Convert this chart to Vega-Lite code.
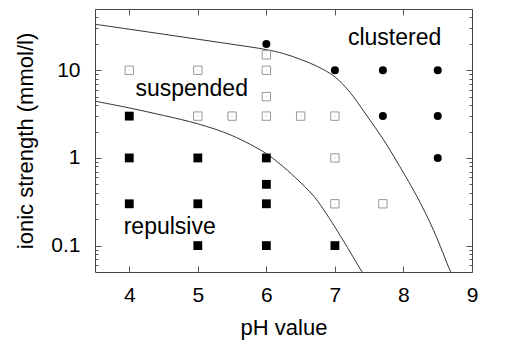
{
  "$schema": "https://vega.github.io/schema/vega-lite/v6.json",
  "width": 377,
  "height": 263,
  "autosize": {"type": "none"},
  "padding": {"left": 95, "top": 9, "right": 39, "bottom": 68},
  "background": "white",
  "config": {
    "view": {"stroke": "#444", "strokeWidth": 1},
    "font": "Liberation Sans",
    "axis": {"grid": false, "domain": false, "tickColor": "#555", "tickWidth": 1, "labelColor": "#000", "titleColor": "#000", "titleFontWeight": "normal", "labelOverlap": false, "labelBound": false, "labelFlush": false}
  },
  "datasets": {
    "curves": [
      {"pH": 3.5, "I": 33.5, "curve": "upper"},
      {"pH": 4.0, "I": 29.4, "curve": "upper"},
      {"pH": 4.5, "I": 25.8, "curve": "upper"},
      {"pH": 5.0, "I": 22.6, "curve": "upper"},
      {"pH": 5.5, "I": 19.8, "curve": "upper"},
      {"pH": 6.0, "I": 17.2, "curve": "upper"},
      {"pH": 6.25, "I": 15.5, "curve": "upper"},
      {"pH": 6.5, "I": 13.3, "curve": "upper"},
      {"pH": 6.75, "I": 11.0, "curve": "upper"},
      {"pH": 7.0, "I": 8.4, "curve": "upper"},
      {"pH": 7.22, "I": 5.6, "curve": "upper"},
      {"pH": 7.47, "I": 3.0, "curve": "upper"},
      {"pH": 7.71, "I": 1.61, "curve": "upper"},
      {"pH": 7.95, "I": 0.79, "curve": "upper"},
      {"pH": 8.2, "I": 0.36, "curve": "upper"},
      {"pH": 8.44, "I": 0.149, "curve": "upper"},
      {"pH": 8.68, "I": 0.052, "curve": "upper"},
      {"pH": 8.72, "I": 0.045, "curve": "upper"},
      {"pH": 3.5, "I": 4.44, "curve": "lower"},
      {"pH": 4.0, "I": 3.72, "curve": "lower"},
      {"pH": 4.5, "I": 3.05, "curve": "lower"},
      {"pH": 5.0, "I": 2.45, "curve": "lower"},
      {"pH": 5.5, "I": 1.8, "curve": "lower"},
      {"pH": 6.0, "I": 1.12, "curve": "lower"},
      {"pH": 6.2, "I": 0.85, "curve": "lower"},
      {"pH": 6.42, "I": 0.6, "curve": "lower"},
      {"pH": 6.7, "I": 0.36, "curve": "lower"},
      {"pH": 6.91, "I": 0.21, "curve": "lower"},
      {"pH": 7.15, "I": 0.105, "curve": "lower"},
      {"pH": 7.42, "I": 0.047, "curve": "lower"},
      {"pH": 7.46, "I": 0.043, "curve": "lower"}
    ],
    "points": [
      {"pH": 4, "I": 3, "cls": "repulsive"},
      {"pH": 4, "I": 1, "cls": "repulsive"},
      {"pH": 4, "I": 0.3, "cls": "repulsive"},
      {"pH": 5, "I": 1, "cls": "repulsive"},
      {"pH": 5, "I": 0.3, "cls": "repulsive"},
      {"pH": 5, "I": 0.1, "cls": "repulsive"},
      {"pH": 6, "I": 1, "cls": "repulsive"},
      {"pH": 6, "I": 0.5, "cls": "repulsive"},
      {"pH": 6, "I": 0.3, "cls": "repulsive"},
      {"pH": 6, "I": 0.1, "cls": "repulsive"},
      {"pH": 7, "I": 0.1, "cls": "repulsive"},
      {"pH": 4, "I": 10, "cls": "suspended"},
      {"pH": 5, "I": 10, "cls": "suspended"},
      {"pH": 6, "I": 15, "cls": "suspended"},
      {"pH": 6, "I": 10, "cls": "suspended"},
      {"pH": 6, "I": 5, "cls": "suspended"},
      {"pH": 5, "I": 3, "cls": "suspended"},
      {"pH": 5.5, "I": 3, "cls": "suspended"},
      {"pH": 6, "I": 3, "cls": "suspended"},
      {"pH": 6.5, "I": 3, "cls": "suspended"},
      {"pH": 7, "I": 3, "cls": "suspended"},
      {"pH": 7, "I": 1, "cls": "suspended"},
      {"pH": 7, "I": 0.3, "cls": "suspended"},
      {"pH": 7.7, "I": 0.3, "cls": "suspended"},
      {"pH": 6, "I": 20, "cls": "clustered"},
      {"pH": 7, "I": 10, "cls": "clustered"},
      {"pH": 7.7, "I": 10, "cls": "clustered"},
      {"pH": 8.5, "I": 10, "cls": "clustered"},
      {"pH": 7.7, "I": 3, "cls": "clustered"},
      {"pH": 8.5, "I": 3, "cls": "clustered"},
      {"pH": 8.5, "I": 1, "cls": "clustered"}
    ],
    "labels": [
      {"pH": 7.87, "I": 23.3, "text": "clustered"},
      {"pH": 4.91, "I": 6.05, "text": "suspended"},
      {"pH": 4.59, "I": 0.165, "text": "repulsive"}
    ]
  },
  "layer": [
    {
      "data": {"name": "curves"},
      "mark": {"type": "line", "clip": true, "color": "#333", "strokeWidth": 1, "interpolate": "catmull-rom"},
      "encoding": {
        "x": {"field": "pH", "type": "quantitative", "scale": {"domain": [3.5, 9], "nice": false, "zero": false},
          "axis": {"orient": "bottom", "values": [4, 5, 6, 7, 8, 9], "tickSize": -6, "labelFontSize": 21, "labelPadding": 18, "title": "pH value", "titleFontSize": 22, "titlePadding": 12}},
        "y": {"field": "I", "type": "quantitative", "scale": {"type": "log", "domain": [0.05, 50], "nice": false},
          "axis": {"orient": "left", "values": [0.1, 1, 10], "tickSize": -6, "labelFontSize": 21, "labelPadding": 21, "labelExpr": "datum.value == 0.1 ? '0.1' : datum.value == 1 ? '1' : '10'", "title": "ionic strength (mmol/l)", "titleFontSize": 22, "titlePadding": 13}},
        "detail": {"field": "curve", "type": "nominal"},
        "order": {"field": "pH", "type": "quantitative"}
      }
    },
    {
      "data": {"name": "points"},
      "transform": [{"filter": "datum.cls == 'repulsive'"}],
      "mark": {"type": "point", "shape": "square", "filled": true, "color": "#000", "size": 78, "opacity": 1},
      "encoding": {
        "x": {"field": "pH", "type": "quantitative", "axis": {"orient": "top", "values": [4, 5, 6, 7, 8], "tickSize": -6, "labels": false, "title": null}},
        "y": {"field": "I", "type": "quantitative", "axis": {"orient": "left", "values": [0.06, 0.07, 0.08, 0.09, 0.2, 0.3, 0.4, 0.5, 0.6, 0.7, 0.8, 0.9, 2, 3, 4, 5, 6, 7, 8, 9, 20, 30, 40, 50], "tickSize": -3, "labels": false, "title": null}}
      }
    },
    {
      "data": {"name": "points"},
      "transform": [{"filter": "datum.cls == 'suspended'"}],
      "mark": {"type": "point", "shape": "square", "filled": false, "color": "#999", "strokeWidth": 1, "size": 70, "opacity": 1},
      "encoding": {
        "x": {"field": "pH", "type": "quantitative", "axis": null},
        "y": {"field": "I", "type": "quantitative", "axis": {"orient": "right", "values": [0.1, 1, 10], "tickSize": -6, "labels": false, "title": null}}
      }
    },
    {
      "data": {"name": "points"},
      "transform": [{"filter": "datum.cls == 'suspended'"}],
      "mark": {"type": "point", "shape": "square", "filled": true, "color": "#bbb", "size": 1, "opacity": 1},
      "encoding": {
        "x": {"field": "pH", "type": "quantitative", "axis": null},
        "y": {"field": "I", "type": "quantitative", "axis": null}
      }
    },
    {
      "data": {"name": "points"},
      "transform": [{"filter": "datum.cls == 'clustered'"}],
      "mark": {"type": "point", "shape": "circle", "filled": true, "color": "#000", "size": 64, "opacity": 1},
      "encoding": {
        "x": {"field": "pH", "type": "quantitative", "axis": null},
        "y": {"field": "I", "type": "quantitative", "axis": {"orient": "right", "values": [0.06, 0.07, 0.08, 0.09, 0.2, 0.3, 0.4, 0.5, 0.6, 0.7, 0.8, 0.9, 2, 3, 4, 5, 6, 7, 8, 9, 20, 30, 40, 50], "tickSize": -3, "labels": false, "title": null}}
      }
    },
    {
      "data": {"name": "labels"},
      "mark": {"type": "text", "fontSize": 23, "align": "center", "baseline": "middle", "color": "#000"},
      "encoding": {
        "x": {"field": "pH", "type": "quantitative", "axis": null},
        "y": {"field": "I", "type": "quantitative", "axis": null},
        "text": {"field": "text", "type": "nominal"}
      }
    }
  ],
  "resolve": {"axis": {"x": "independent", "y": "independent"}}
}
